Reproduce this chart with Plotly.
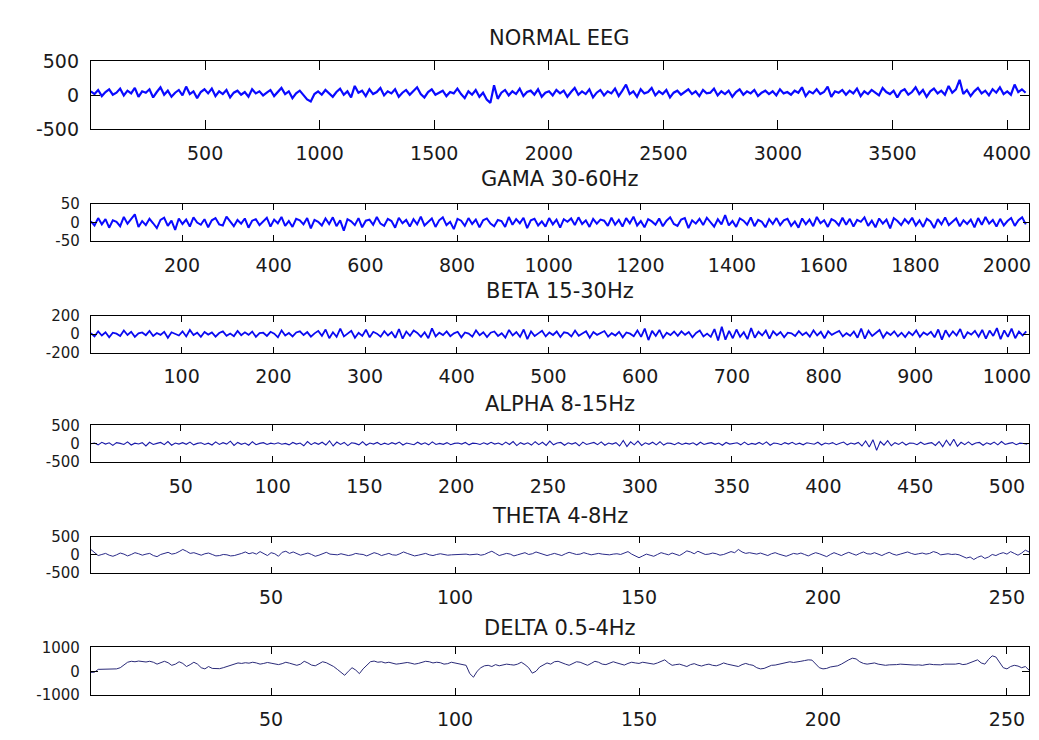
import plotly.graph_objects as go

W, H = 1039, 740

# ---------------- data ----------------
titles = ["NORMAL EEG", "GAMA 30-60Hz", "BETA 15-30Hz", "ALPHA 8-15Hz", "THETA 4-8Hz", "DELTA 0.5-4Hz"]
sample_step = [16, 8, 4, 2, 1, 1]
n_samples = [4096, 2048, 1024, 512, 256, 256]
y_limits = [500, 50, 200, 500, 500, 1000]
x_ticks = [
    [500, 1000, 1500, 2000, 2500, 3000, 3500, 4000],
    [200, 400, 600, 800, 1000, 1200, 1400, 1600, 1800, 2000],
    [100, 200, 300, 400, 500, 600, 700, 800, 900, 1000],
    [50, 100, 150, 200, 250, 300, 350, 400, 450, 500],
    [50, 100, 150, 200, 250],
    [50, 100, 150, 200, 250],
]

normal = [
    60, 20, 80, -10, 50, 90, 10, 40, 100, 0, 70, 30, 110, -20, 60, 40,
    90, -30, 50, 120, 10, 70, -20, 40, 80, 0, 130, 20, 60, -40, 50, 90,
    30, 100, -10, 60, 20, 80, -30, 40, 70, 10, 50, -20, 90, 30, 60, 0,
    40, 80, -10, 50, 110, 20, 60, -40, 30, 70, 0, -60, -90, 20, 60, 10,
    80, 30, -20, 50, 100, 10, 60, -30, 140, 40, 70, -10, 90, 20, 50, 110,
    0, 60, 30, 90, -20, 40, 80, 10, 60, 120, 20, -30, 50, 90, 10, 40,
    70, -10, 50, 30, 100, 20, -40, 60, 10, 80, -20, 40, -60, -110, 150, -50,
    40, 80, 0, 60, 20, 100, -10, 50, 70, 10, 90, -20, 40, 60, 0, 80,
    30, 70, -20, 50, 110, 10, 60, 20, 90, -30, 40, 80, 0, 60, 30, 100,
    -10, 70, 160, 20, 60, -20, 90, 30, 50, 110, 0, 60, 20, 80, -30, 40,
    70, 10, 50, 90, 20, 60, -10, 80, 30, 40, 100, 0, 60, 20, 70, -20,
    50, 90, 10, 60, 30, 80, -10, 40, 70, 20, 60, 0, 90, 30, 50, 10,
    70, 40, 120, -10, 60, 30, 90, 20, 50, 130, -20, 60, 40, 80, 10, 70,
    30, 100, -10, 60, 20, 80, 40, 0, 110, 50, 20, 70, -30, 60, 90, 10,
    50, 120, 20, 80, -20, 60, 100, 30, 70, 10, 140, 40, 90, 230, 20, 80,
    -10, 60, 110, 30, 70, 0, 90, 40, 120, 20, 60, 10, 160, 50, 90, 40,
]

gama = [
    3, -8, 12, -5, 9, -14, 6, 2, -10, 15, -3, 8, 22, -12, 4, -7,
    10, -2, -15, 7, 13, -9, 5, -20, 11, -4, 8, -11, 14, 0, -6, 9,
    -13, 6, 12, -5, -8, 16, 2, -10, 7, -3, 11, -14, 5, 9, -7, 3,
    13, -11, 8, -2, 15, -9, 4, -12, 10, 6, -5, 12, -16, 7, 2, -8,
    11, -4, 14, -10, 6, -22, 9, 3, -7, 12, -13, 5, 8, -6, 15, -3,
    -9, 10, 4, -14, 13, -2, 7, -11, 9, -5, 16, -8, 3, 11, -12, 6,
    14, -7, 2, -18, 10, 5, -9, 12, -4, 8, -13, 6, 11, -3, -10, 7,
    4, -12, 15, -6, 9, -2, 13, -15, 6, 10, -8, 3, -11, 12, -5, 8,
    -14, 9, 2, 11, -7, 14, -4, 6, -12, 10, -3, 8, 5, -9, 13, -6,
    7, -11, 12, -2, 16, -8, 4, -13, 9, 3, -6, 11, -10, 5, 14, -4,
    -9, 8, 12, -15, 6, -3, 10, -7, 13, 2, -11, 9, -5, 20, -8, 4,
    -12, 11, 5, -6, 14, -10, 7, 2, -13, 9, -4, 12, -7, 6, 10, -9,
    3, -14, 11, -5, 8, -10, 15, -2, 6, -12, 9, 4, -8, 13, -6, 10,
    -11, 7, 2, 14, -9, 5, -13, 11, -3, 8, -16, 12, 4, -7, 9, -2,
    13, -8, 6, -12, 10, 3, -15, 9, -5, 14, -7, 2, 11, -10, 6, -4,
    8, -13, 12, -6, 15, -3, 7, -11, 10, -8, 4, 12, -9, 6, 14, -5,
]

beta = [
    10, -25, 30, -15, 20, -35, 15, 5, -20, 40, -10, 25, -30, 8, 18, -12,
    35, -20, 12, -8, 25, -40, 20, 3, -15, 30, -25, 45, -10, 15, -30, 22,
    -5, 18, -28, 12, 30, -18, 6, -22, 35, -12, 20, -8, 28, -30, 10, 15,
    -20, 25, 5, -35, 40, -15, 12, -25, 18, 30, -10, 22, -28, 8, 35, -18,
    50, -45, 20, -30, 60, -25, 10, 35, -40, 15, -20, 48, -35, 25, 5, -28,
    32, -15, 22, -40, 55, -50, 28, -18, 40, 12, -30, 20, -45, 62, -25, 15,
    -10, 30, -22, 8, 25, -35, 18, 5, -28, 40, -12, 20, -32, 15, 28, -20,
    10, -38, 45, -15, 22, -30, 50, -55, 30, -20, 8, 35, -25, 18, -10, 28,
    -32, 20, 12, -25, 38, -18, 6, 30, -40, 22, -8, 15, 33, -28, 10, -15,
    25, -35, 18, 5, -22, 40, -30, 60, -65, 35, -20, 45, -40, 15, -10, 28,
    -18, 30, -8, 22, -35, 12, 40, -25, 5, -30, 55, -70, 80, -60, 35, -45,
    50, -30, 20, -55, 65, -40, 25, -15, 38, -50, 30, -12, 22, -35, 15, 8,
    -20, 32, -10, 18, -28, 40, -15, 25, -45, 30, -8, 15, 35, -25, 10, -18,
    28, -40, 60, -50, 35, -20, 12, 45, -38, 20, -10, 30, -25, 15, -32, 22,
    -12, 40, -30, 18, -8, 25, -35, 50, -60, 42, -25, 30, -15, 55, -48, 20,
    -5, 35, -28, 45, -50, 38, -20, 65, -55, 40, -30, 60, -45, 28, -15, 30,
]

alpha = [
    0, 20, -30, 40, -10, 25, -45, 30, 10, -20, 50, -35, 15, -5, 30, -60,
    40, -20, 10, 35, -25, 60, -40, 20, -10, 30, -15, 45, -30, 10, 25, -20,
    15, -35, 50, -20, 30, -10, 70, -45, 35, -15, 20, -40, 55, -25, 10, 30,
    -20, 15, -5, 25, -15, 10, -30, 35, -10, 20, -55, 60, -25, 30, -15, 40,
    -35, 80, -60, 45, -20, 35, -50, 25, 10, -30, 55, -40, 20, -10, 35, -25,
    15, -20, 30, -10, 45, -35, 20, 5, -25, 40, -15, 25, -30, 50, -20, 10,
    -15, 30, -25, 10, 20, -10, 35, -30, 15, 5, -20, 25, -15, 40, -10, 20,
    -30, 45, -20, 60, -50, 30, -15, 25, -35, 55, -25, 40, -45, 70, -30, 20,
    35, -40, 25, -10, 30, -55, 45, -20, 15, 35, -25, 50, -40, 20, -10, 30,
    -60, 90, -75, 50, -30, 70, -45, 25, -15, 40, -30, 55, -35, 20, 10, -25,
    30, -20, 15, -10, 25, -35, 40, -20, 10, 30, -15, 20, -40, 35, -10, 15,
    25, -30, 45, -25, 10, -15, 35, -20, 50, -40, 20, 5, -25, 30, -10, 40,
    -20, 15, -30, 25, 10, -15, 40, -35, 20, -5, 30, -25, 15, 45, -30, 20,
    -10, 35, -60, 75, -90, 110, -180, 60, -40, 85, -55, 30, -20, 45, -35, 20,
    15, -25, 40, -20, 10, 30, -45, 60, -80, 95, -50, 120, -70, 40, -25, 50,
    -30, 20, 35, -40, 25, -15, 45, -30, 60, -20, 10, 30, -25, 15, 5, -10,
]

theta = [
    150, 60, -20, 10, 40, -10, -40, 0, 50, 20, -30, 10, 60, 30, -10, 20,
    40, -20, -50, 10, 30, 70, 20, 40, 90, 150, 100, 40, 60, 20, -10, 30,
    50, 10, -30, -20, 10, 0, -30, -20, 0, 40, 80, 30, 60, 20, 90, 40,
    -20, 60, 30, -40, 70, 100, 40, 80, 30, -10, 20, 50, 10, -40, -10, 40,
    70, 20, 10, 0, 30, 10, -20, 0, 40, 20, 10, -30, 20, 60, 30, -20,
    10, 40, 0, -10, 30, 80, 40, 10, -30, -10, 20, 40, 0, -20, 10, 30,
    10, -10, 0, 10, 0, 10, 20, 0, 10, 20, -10, 10, 60, 100, 40, -20,
    10, 40, 20, -30, 0, 30, 60, 10, 30, 80, 50, 20, -20, 10, 40, 10,
    -20, 30, 70, 40, 10, 20, 60, 30, 0, 20, 40, 20, 10, 0, 20, 30,
    10, 60, 90, 20, -40, -80, -30, 20, -10, -40, 10, 60, 30, 0, 50, 20,
    -20, 40, 110, 80, 30, 100, 60, 10, 20, 50, 30, -10, 10, 40, 90, 60,
    150, 80, 40, 60, 30, 20, 50, 10, -20, 30, 60, 20, -10, -40, 0, 40,
    20, 50, 10, -30, 20, 60, 30, -10, -50, 10, 60, 20, -20, 30, 70, 30,
    -10, 40, 80, 30, 20, 60, 10, -20, 30, 70, 20, -10, 20, 50, 80, 40,
    10, 30, 50, 20, 40, 90, 60, 0, 20, 30, 10, 20, 0, -50, -90, -60,
    -130, -70, -30, -100, -60, 10, -20, 30, 60, 20, 90, 40, -10, 50, 130, 80,
]

delta = [
    -50, -40, 80, 90, 90, 100, 90, 100, 150, 250, 380, 420, 400, 430, 410, 390,
    420, 380, 300, 350, 420, 360, 250, 300, 400, 330, 200, 280, 380, 300, 150, 100,
    200, 120, 100, 110, 150, 200, 280, 320, 350, 330, 360, 340, 380, 350, 300, 330,
    370, 340, 300, 280, 320, 380, 340, 290, 250, 300, 420, 350, 260, 230, 300, 400,
    360, 280, 200, 80, -50, -170, 0, 150, 50, -100, 100, 250, 400, 430, 380, 400,
    350, 380, 330, 300, 320, 350, 370, 340, 300, 330, 360, 420, 400, 350, 380, 360,
    300, 320, 380, 350, 330, 300, 250, -100, -250, 0, 150, 230, 250, 200, 280, 230,
    250, 300, 280, 260, 300, 380, 280, 150, -80, 0, 180, 250, 350, 300, 400, 420,
    350, 300, 250, 320, 400, 380, 300, 250, 330, 420, 380, 300, 280, 340, 400, 350,
    300, 260, 330, 380, 350, 330, 380, 360, 340, 300, 350, 420, 480, 350, 250, 280,
    300, 250, 200, 280, 320, 260, 220, 270, 300, 250, 230, 280, 350, 300, 260, 240,
    200, 280, 330, 280, 250, 150, 100, 120, 200, 250, 260, 300, 350, 380, 400, 370,
    380, 420, 450, 480, 470, 300, 150, 100, 120, 180, 200, 230, 300, 400, 480, 550,
    520, 400, 330, 300, 320, 350, 300, 280, 250, 270, 260, 280, 300, 290, 280, 250,
    260, 270, 250, 280, 300, 280, 260, 270, 300, 290, 280, 300, 330, 280, 300, 350,
    400, 480, 350, 300, 500, 650, 600, 350, 150, 100, 200, 250, 220, 150, 200, 50,
]

series_values = [normal, gama, beta, alpha, theta, delta]

# ---------------- layout geometry (pixels) ----------------
plot_left, plot_right = 91, 1031
panel_px = [(52, 122), (199, 237), (314, 352), (427, 465), (542, 579), (656, 705)]
title_px = [28, 173, 289, 405, 520, 636]
line_colors = ["#0a0aff", "#0a0aff", "#0a0af0", "#1a1aa8", "#2a2a88", "#2a2a78"]
line_widths = [2.2, 2.0, 1.8, 1.1, 1.0, 1.0]
tick_lens = [9, 6, 6, 6, 6, 7]
ytick_sizes = [19, 15, 15, 15, 15, 15]

FONT = "DejaVu Sans"
TXT = "#1a1a1a"
fig = go.Figure()
annotations = []
layout = {}

for k in range(6):
    vals = series_values[k]
    step = sample_step[k]
    xs = [1 + step * i for i in range(len(vals))]
    idx = "" if k == 0 else str(k + 1)
    fig.add_trace(go.Scatter(
        x=xs, y=vals, mode="lines",
        line=dict(color=line_colors[k], width=line_widths[k]),
        xaxis="x" + idx, yaxis="y" + idx, showlegend=False, hoverinfo="skip",
    ))
    top, bot = panel_px[k]
    ylim = y_limits[k]
    axis_common = dict(
        showline=True, linecolor="black", linewidth=1, mirror="ticks",
        ticks="inside", tickcolor="black", tickwidth=1, ticklen=tick_lens[k],
        showgrid=False, zeroline=False,
    )
    layout["xaxis" + idx] = dict(
        axis_common,
        domain=[plot_left / W, plot_right / W],
        range=[1, n_samples[k]],
        tickvals=x_ticks[k],
        ticktext=[str(v) for v in x_ticks[k]],
        anchor="y" + idx,
        ticklabelstandoff=7,
        tickfont=dict(family=FONT, size=19, color=TXT),
    )
    yv = [-ylim, 0, ylim]
    layout["yaxis" + idx] = dict(
        axis_common,
        domain=[1 - bot / H, 1 - top / H],
        range=[-ylim, ylim],
        tickvals=yv,
        ticktext=["-" + str(ylim), "0", str(ylim)],
        anchor="x" + idx,
        ticklabelstandoff=7,
        tickfont=dict(family=FONT, size=ytick_sizes[k], color=TXT),
    )
    annotations.append(dict(
        text=titles[k], x=(plot_left + plot_right) / 2 / W, y=1 - title_px[k] / H,
        xref="paper", yref="paper", showarrow=False, xanchor="center", yanchor="middle",
        font=dict(family=FONT, size=21, color=TXT),
    ))

fig.update_layout(
    width=W, height=H,
    margin=dict(l=0, r=0, t=0, b=0),
    paper_bgcolor="white", plot_bgcolor="white",
    annotations=annotations,
    **layout,
)

fig.write_html("out.html")
